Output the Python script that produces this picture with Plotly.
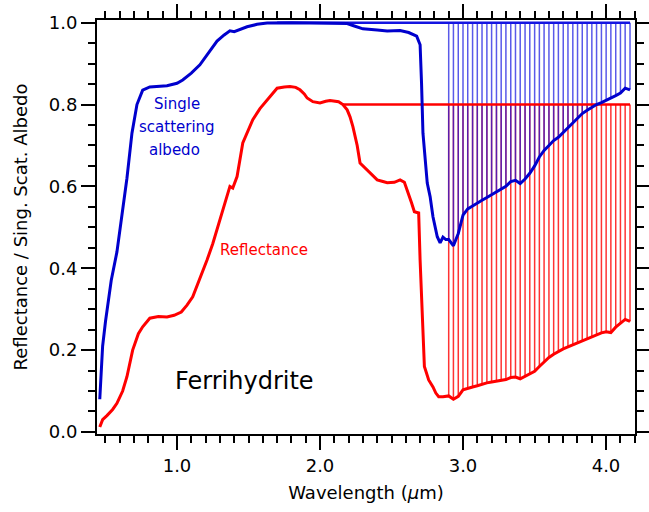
import plotly.graph_objects as go

# ---------------- data ----------------
# Single scattering albedo, main part of the curve
ssa_wl = [0.46, 0.47, 0.48, 0.50, 0.54, 0.58, 0.62, 0.65, 0.685, 0.72, 0.76, 0.81, 0.93, 1.00,
          1.04, 1.10, 1.16, 1.22, 1.28, 1.33, 1.37, 1.40, 1.43, 1.49, 1.56, 1.63, 1.80, 1.95,
          2.10, 2.19, 2.24, 2.30, 2.40, 2.47, 2.56, 2.62, 2.676, 2.70, 2.71, 2.72, 2.75, 2.77,
          2.79, 2.82, 2.84, 2.86, 2.88]
ssa_val = [0.08, 0.15, 0.21, 0.27, 0.37, 0.44, 0.54, 0.62, 0.73, 0.80, 0.835, 0.843, 0.846, 0.852,
           0.86, 0.877, 0.897, 0.925, 0.955, 0.97, 0.98, 0.978, 0.982, 0.99, 0.996, 0.999, 1.0, 0.999,
           0.999, 0.998, 0.992, 0.985, 0.982, 0.98, 0.981, 0.976, 0.967, 0.946, 0.853, 0.73, 0.608, 0.575,
           0.526, 0.477, 0.462, 0.476, 0.47]

# Reflectance, main part of the curve
refl_wl = [0.46, 0.48, 0.51, 0.55, 0.58, 0.62, 0.65, 0.69, 0.73, 0.76, 0.81, 0.87, 0.93, 0.98,
           1.03, 1.07, 1.11, 1.15, 1.18, 1.21, 1.25, 1.30, 1.34, 1.37, 1.39, 1.42, 1.46, 1.53,
           1.58, 1.63, 1.70, 1.75, 1.79, 1.83, 1.86, 1.89, 1.91, 1.95, 2.00, 2.04, 2.07, 2.13,
           2.16, 2.19, 2.21, 2.23, 2.26, 2.28, 2.33, 2.37, 2.40, 2.44, 2.47, 2.52, 2.56, 2.59,
           2.61, 2.64, 2.66, 2.69, 2.70, 2.71, 2.73, 2.76, 2.79, 2.81, 2.83, 2.86, 2.88]
refl_val = [0.012, 0.03, 0.04, 0.055, 0.07, 0.10, 0.135, 0.20, 0.24, 0.257, 0.278, 0.282, 0.281, 0.285,
            0.293, 0.31, 0.33, 0.365, 0.396, 0.42, 0.46, 0.518, 0.56, 0.60, 0.596, 0.624, 0.706, 0.763,
            0.79, 0.812, 0.84, 0.843, 0.844, 0.842, 0.836, 0.826, 0.816, 0.807, 0.804, 0.808, 0.81, 0.807,
            0.80, 0.787, 0.77, 0.746, 0.70, 0.657, 0.64, 0.625, 0.616, 0.612, 0.609, 0.61, 0.616, 0.61,
            0.592, 0.56, 0.538, 0.535, 0.42, 0.323, 0.16, 0.127, 0.11, 0.095, 0.086, 0.086, 0.087]

# Tail region (where the sticks are drawn)
tail_wl = [2.900, 2.933, 2.967, 3.000, 3.033, 3.067, 3.100, 3.133, 3.167, 3.200, 3.234, 3.267, 3.300,
           3.334, 3.367, 3.400, 3.434, 3.467, 3.501, 3.534, 3.567, 3.601, 3.634, 3.667, 3.701, 3.734,
           3.768, 3.801, 3.834, 3.868, 3.901, 3.934, 3.968, 4.001, 4.034, 4.068, 4.101, 4.134, 4.168]
ssa_tail = [0.47, 0.455, 0.485, 0.53, 0.545, 0.552, 0.56, 0.566, 0.573, 0.58, 0.587, 0.593, 0.60,
            0.612, 0.615, 0.607, 0.618, 0.632, 0.65, 0.672, 0.688, 0.70, 0.712, 0.72, 0.732, 0.745,
            0.757, 0.768, 0.778, 0.786, 0.793, 0.80, 0.805, 0.81, 0.816, 0.822, 0.828, 0.84, 0.836]
refl_tail = [0.088, 0.08, 0.087, 0.103, 0.107, 0.11, 0.113, 0.117, 0.12, 0.122, 0.124, 0.126, 0.128,
             0.133, 0.134, 0.13, 0.136, 0.142, 0.148, 0.16, 0.172, 0.182, 0.19, 0.197, 0.203, 0.208,
             0.213, 0.218, 0.223, 0.229, 0.234, 0.238, 0.242, 0.245, 0.243, 0.256, 0.266, 0.275, 0.27]

ssa_level = 1.0
refl_level = 0.8
ssa_level_start = 1.70
refl_level_start = 2.16

BLUE = "rgb(0,0,205)"
STICK_BLUE = "rgb(20,20,225)"
RED = "rgb(255,0,0)"
FONT = "DejaVu Sans"

fig = go.Figure()

def sticks(xs, ys, level):
    sx, sy = [], []
    for x, y in zip(xs, ys):
        sx += [x, x, None]
        sy += [y, level, None]
    return sx, sy

rx, ry = sticks(tail_wl, refl_tail, refl_level)
fig.add_trace(go.Scatter(x=rx, y=ry, mode="lines", line=dict(color=RED, width=1.5),
                         opacity=0.8, hoverinfo="skip"))
bx, by = sticks(tail_wl, ssa_tail, ssa_level)
fig.add_trace(go.Scatter(x=bx, y=by, mode="lines", line=dict(color=STICK_BLUE, width=1.5),
                         opacity=0.7, hoverinfo="skip"))

# horizontal reference levels
fig.add_trace(go.Scatter(x=[refl_level_start, tail_wl[-1]], y=[refl_level, refl_level], mode="lines",
                         line=dict(color=RED, width=2.5)))
fig.add_trace(go.Scatter(x=[ssa_level_start, tail_wl[-1]], y=[ssa_level, ssa_level], mode="lines",
                         line=dict(color=STICK_BLUE, width=2.5)))

# curves
fig.add_trace(go.Scatter(x=refl_wl + tail_wl, y=refl_val + refl_tail, mode="lines",
                         line=dict(color=RED, width=3)))
fig.add_trace(go.Scatter(x=ssa_wl + tail_wl, y=ssa_val + ssa_tail, mode="lines",
                         line=dict(color=BLUE, width=3)))

ann = [
    dict(x=1.0, y=0.801, text="Single", color=BLUE, size=15),
    dict(x=1.0, y=0.746, text="scattering", color=BLUE, size=15),
    dict(x=0.98, y=0.690, text="albedo", color=BLUE, size=15),
    dict(x=1.61, y=0.445, text="Reflectance", color=RED, size=15),
    dict(x=1.47, y=0.125, text="Ferrihydrite", color="black", size=24),
]
for a in ann:
    fig.add_annotation(x=a["x"], y=a["y"], text=a["text"], showarrow=False,
                       xanchor="center", yanchor="middle",
                       font=dict(family=FONT, size=a["size"], color=a["color"]))

axis_common = dict(showline=True, linecolor="black", linewidth=2, mirror="ticks",
                   ticks="outside", ticklen=14, tickwidth=2, tickcolor="black",
                   showgrid=False, zeroline=False, automargin=False,
                   tickfont=dict(family=FONT, size=18, color="black"))

fig.update_xaxes(range=[0.4406, 4.2028], tick0=0, dtick=1.0, tickformat=".1f",
                 minor=dict(dtick=0.1, ticklen=7, tickwidth=1.5, tickcolor="black", ticks="outside"),
                 title=dict(text="Wavelength (<i>µ</i>m)", font=dict(family=FONT, size=18, color="black"),
                            standoff=12),
                 **axis_common)
fig.update_yaxes(range=[-0.005, 1.0066], tick0=0, dtick=0.2, tickformat=".1f",
                 minor=dict(dtick=0.05, ticklen=7, tickwidth=1.5, tickcolor="black", ticks="outside"),
                 title=dict(text="Reflectance / Sing. Scat. Albedo",
                            font=dict(family=FONT, size=18, color="black"), standoff=16),
                 **axis_common)

fig.update_layout(width=649, height=512, margin=dict(l=97, r=14, t=20, b=78),
                  plot_bgcolor="white", paper_bgcolor="white", showlegend=False)

fig.write_html("out.html")
